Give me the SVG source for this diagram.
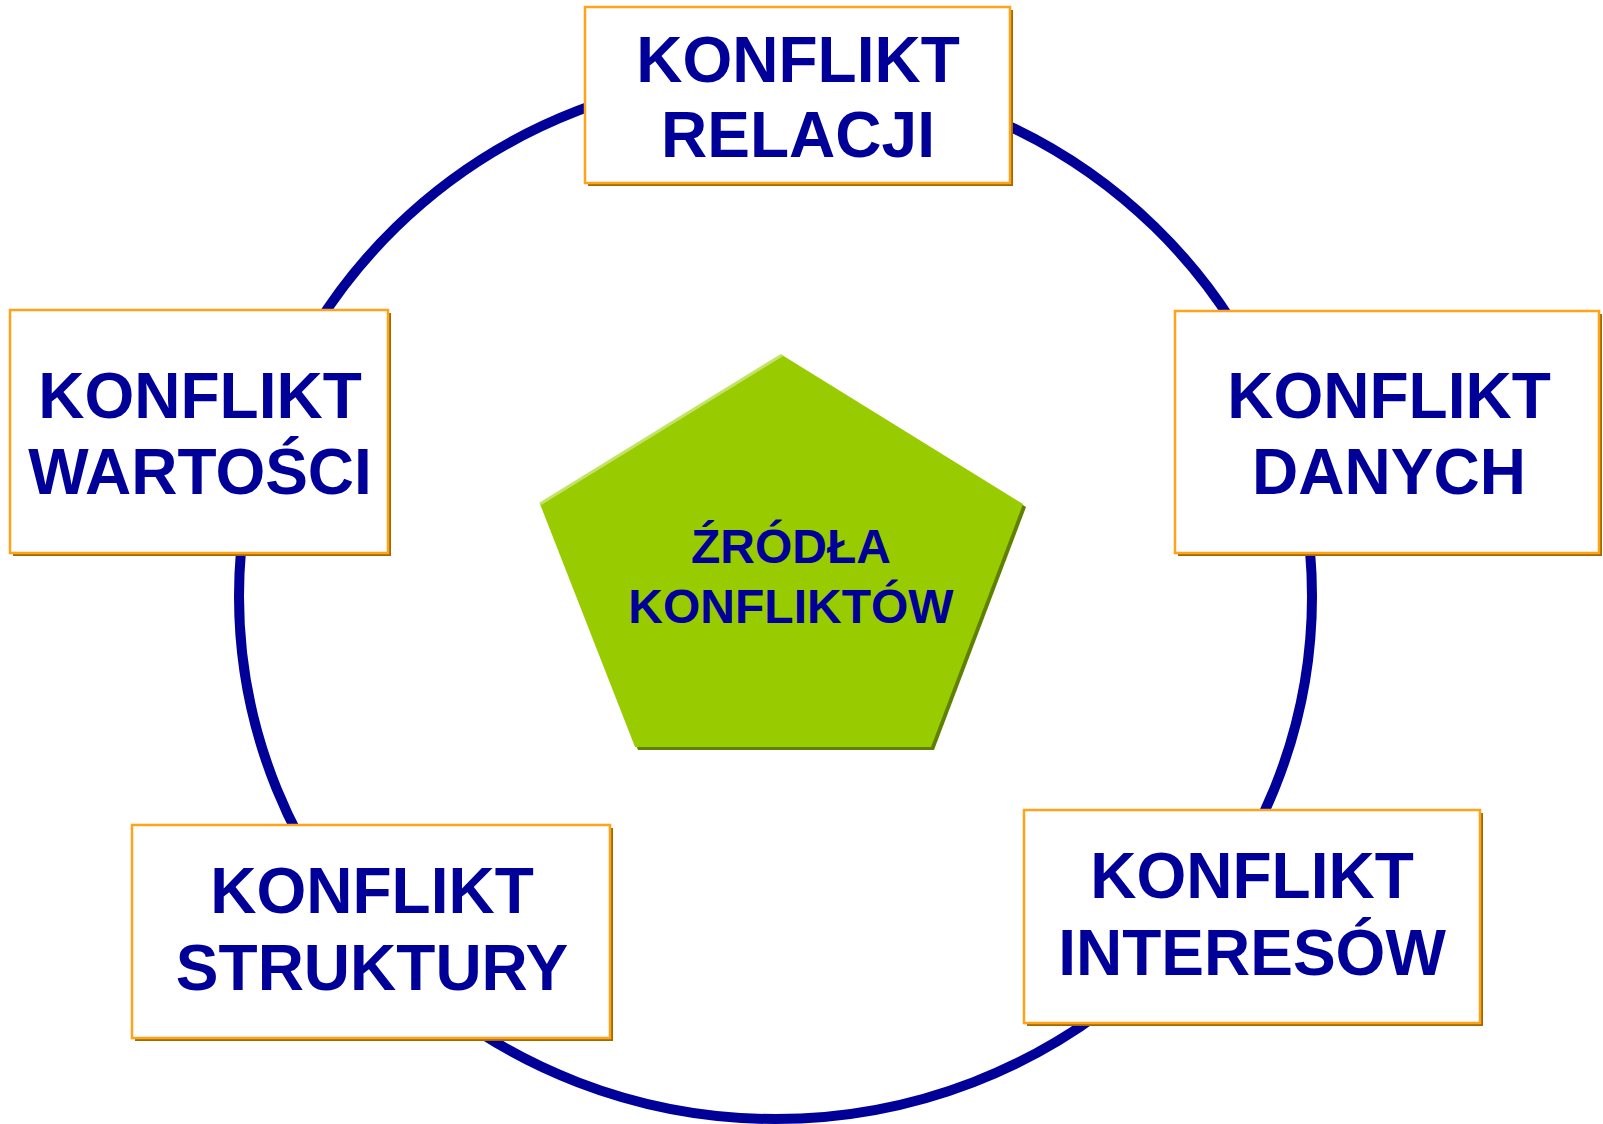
<svg xmlns="http://www.w3.org/2000/svg" width="1603" height="1124" viewBox="0 0 1603 1124">
<style>
.shadow{fill:#A36800;}
.box{fill:#FFFFFF;stroke:#FFA31A;stroke-width:2.5;}
.t{font-family:"Liberation Sans",Arial,sans-serif;font-weight:bold;fill:#000099;text-anchor:middle;}
.big{font-size:64px;}
.mid{font-size:48px;}
</style>
<rect width="1603" height="1124" fill="#FFFFFF"/>
<g id="connectors">
<ellipse cx="775.5" cy="596.5" rx="536.5" ry="522.5" fill="none" stroke="#000099" stroke-width="10"/>
</g>
<g id="center">
<polygon points="785,358 1026,507 934,750 638,750 543,507" fill="#5F8000"/>
<polygon points="782,355 1023,504 931,747 635,747 540,504" fill="#99CC00"/>
<polyline points="540,504 782,355" fill="none" stroke="#C2E466" stroke-width="3"/>
<text class="t mid" x="791" y="563">ŹRÓDŁA</text>
<text class="t mid" x="791" y="623">KONFLIKTÓW</text>
</g>
<g id="relacji">
<rect class="shadow" x="588" y="10" width="425" height="176"/>
<rect class="box" x="585" y="7" width="425" height="176"/>
<text class="t big" x="798" y="82">KONFLIKT</text>
<text class="t big" x="798" y="157">RELACJI</text>
</g>
<g id="wartosci">
<rect class="shadow" x="13" y="313" width="378" height="243"/>
<rect class="box" x="10" y="310" width="378" height="243"/>
<text class="t big" x="200" y="418">KONFLIKT</text>
<text class="t big" x="200" y="494">WARTOŚCI</text>
</g>
<g id="danych">
<rect class="shadow" x="1178" y="314" width="424" height="242"/>
<rect class="box" x="1175" y="311" width="424" height="242"/>
<text class="t big" x="1389" y="418">KONFLIKT</text>
<text class="t big" x="1389" y="494">DANYCH</text>
</g>
<g id="interesow">
<rect class="shadow" x="1027" y="813" width="456" height="213"/>
<rect class="box" x="1024" y="810" width="456" height="213"/>
<text class="t big" x="1252" y="898">KONFLIKT</text>
<text class="t big" x="1252" y="975">INTERESÓW</text>
</g>
<g id="struktury">
<rect class="shadow" x="135" y="828" width="478" height="213"/>
<rect class="box" x="132" y="825" width="478" height="213"/>
<text class="t big" x="372" y="913">KONFLIKT</text>
<text class="t big" x="372" y="990">STRUKTURY</text>
</g>
</svg>
